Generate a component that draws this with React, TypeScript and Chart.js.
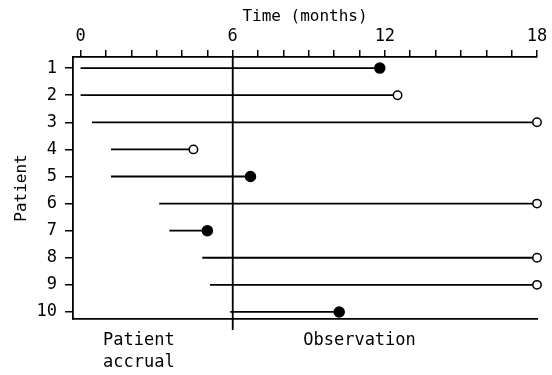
import React, { useEffect, useRef } from "react";
import { Chart, registerables } from "chart.js";

Chart.register(...registerables);

const patients = [1, 2, 3, 4, 5, 6, 7, 8, 9, 10];
const startMonths = [0, 0, 0.45, 1.2, 1.2, 3.1, 3.5, 4.8, 5.1, 5.9];
const endMonths = [11.8, 12.5, 18, 4.45, 6.7, 18, 5.0, 18, 18, 10.2];
const eventObserved = [true, false, false, false, true, false, true, false, false, true];
const monthTicks = [0, 1, 2, 3, 4, 5, 6, 7, 8, 9, 10, 11, 12, 13, 14, 15, 16, 17, 18];
const labelledMonths = [0, 6, 12, 18];
const accrualEnd = 6;
const xTitle = "Time (months)";
const yTitle = "Patient";
const accrualLabel = ["Patient", "accrual"];
const observationLabel = "Observation";
const accrualLabelAt = 2.3;
const observationLabelAt = 11.0;

const FONT = '"DejaVu Sans Mono", monospace';

export default function App() {
  const ref = useRef<HTMLCanvasElement | null>(null);

  useEffect(() => {
    document.body.style.margin = "0";
    const canvas = ref.current;
    if (!canvas) return;

    const xMin = -0.3;
    const xMax = 18;
    const yMin = 0.59;
    const yMax = 10.26;

    const patientSets = patients.map((p, i) => ({
      data: [
        { x: startMonths[i], y: p },
        { x: endMonths[i], y: p },
      ],
      borderColor: "#000",
      borderWidth: 1.8,
      pointRadius: [0, eventObserved[i] ? 5 : 4.2],
      pointHoverRadius: [0, eventObserved[i] ? 5 : 4.2],
      pointBackgroundColor: eventObserved[i] ? "#000" : "#fff",
      pointBorderColor: "#000",
      pointBorderWidth: 1.5,
      showLine: true,
      clip: false as any,
    }));

    const accrualLine = {
      data: [
        { x: accrualEnd, y: yMin },
        { x: accrualEnd, y: 10.67 },
      ],
      borderColor: "#000",
      borderWidth: 1.8,
      pointRadius: 0,
      showLine: true,
      clip: false as any,
    };

    const bottomLabels = {
      id: "bottomLabels",
      afterDraw(chart: any) {
        const { ctx, chartArea } = chart;
        const xs = chart.scales.x;
        ctx.save();
        ctx.fillStyle = "#000";
        ctx.font = `17px ${FONT}`;
        ctx.textAlign = "center";
        ctx.textBaseline = "middle";
        const ax = xs.getPixelForValue(accrualLabelAt);
        ctx.fillText(accrualLabel[0], ax, chartArea.bottom + 22);
        ctx.fillText(accrualLabel[1], ax, chartArea.bottom + 44);
        ctx.fillText(observationLabel, xs.getPixelForValue(observationLabelAt), chartArea.bottom + 22);
        ctx.restore();
      },
    };

    const bgPlugin = {
      id: "bg",
      beforeDraw(chart: any) {
        const { ctx, width, height } = chart;
        ctx.save();
        ctx.fillStyle = "#fff";
        ctx.fillRect(0, 0, width, height);
        ctx.restore();
      },
    };

    const chart = new Chart(canvas, {
      type: "line",
      data: { datasets: [accrualLine as any, ...patientSets] },
      options: {
        animation: false,
        responsive: false,
        devicePixelRatio: 1,
        layout: { padding: { left: 0, top: 0, right: 15, bottom: 56 } },
        plugins: { legend: { display: false }, tooltip: { enabled: false } },
        scales: {
          x: {
            type: "linear",
            position: "top",
            min: xMin,
            max: xMax,
            afterBuildTicks: (s: any) => {
              s.ticks = monthTicks.map((v) => ({ value: v }));
            },
            afterFit: (s: any) => {
              s.height = 57;
            },
            ticks: {
              color: "#000",
              font: { family: FONT, size: 17 },
              padding: 3,
              maxRotation: 0,
              autoSkip: false,
              callback: (v: any) => (labelledMonths.includes(Number(v)) ? String(v) : ""),
            },
            grid: {
              drawOnChartArea: false,
              tickLength: 7,
              color: "#000",
              lineWidth: 1.5,
            },
            border: { color: "#000", width: 1.8 },
            title: {
              display: true,
              text: xTitle,
              color: "#000",
              font: { family: FONT, size: 16 },
              padding: { top: 7, bottom: 0 },
            },
          },
          x2: {
            type: "linear",
            position: "bottom",
            min: xMin,
            max: xMax,
            ticks: { display: false },
            grid: { display: false },
            border: { display: true, color: "#000", width: 1.8 },
            afterFit: (s: any) => {
              s.height = 0;
            },
          },
          y: {
            type: "linear",
            reverse: true,
            min: yMin,
            max: yMax,
            afterBuildTicks: (s: any) => {
              s.ticks = patients.map((v) => ({ value: v }));
            },
            afterFit: (s: any) => {
              s.width = 73;
            },
            ticks: {
              color: "#000",
              font: { family: FONT, size: 17 },
              padding: 8,
              autoSkip: false,
            },
            grid: {
              drawOnChartArea: false,
              tickLength: 8,
              color: "#000",
              lineWidth: 1.5,
            },
            border: { color: "#000", width: 1.8 },
            title: {
              display: true,
              text: yTitle,
              color: "#000",
              font: { family: FONT, size: 16 },
              padding: { top: 12, bottom: 0 },
            },
          },
        },
      },
      plugins: [bgPlugin, bottomLabels],
    } as any);

    return () => chart.destroy();
  }, []);

  return (
    <div style={{ position: "absolute", left: 0, top: 0, width: 552, height: 375 }}>
      <canvas ref={ref} width={552} height={375} />
    </div>
  );
}
